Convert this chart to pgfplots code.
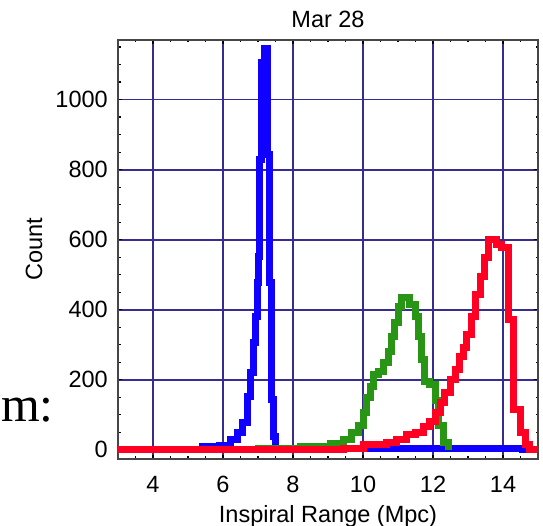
\documentclass[border=0pt]{standalone}
\usepackage{pgfplots}
\pgfplotsset{compat=1.18}
\usepackage{fontspec}
\setmainfont{Liberation Sans}
\newfontfamily\slidefont{Liberation Serif}
\definecolor{histblue}{RGB}{15,0,255}
\definecolor{histgreen}{RGB}{40,150,20}
\definecolor{histred}{RGB}{255,0,35}
\definecolor{gridblue}{RGB}{55,45,145}
\definecolor{framegray}{RGB}{70,70,70}
\newcommand\lbl{\fontsize{23.6}{28}\selectfont}

\begin{document}
\begin{tikzpicture}
\useasboundingbox (0,0) rectangle (543bp,526bp);
\begin{axis}[
    at={(118bp,67bp)}, anchor=south west,
    scale only axis, width=420bp, height=419bp,
    xmin=3, xmax=15, ymin=-26, ymax=1170,
    xtick={4,6,...,14}, ytick={0,200,...,1000},
    minor xtick={3,3.5,...,15}, minor ytick={0,50,...,1150},
    grid=major,
    major grid style={gridblue, line width=1.8bp},
    axis line style={framegray, line width=1.6bp},
    tick style={black, line width=1.2bp},
    major tick length=4bp, minor tick length=2.5bp,
    tick align=inside,
    ticklabel style={font=\lbl},
    xticklabel style={inner sep=0pt, anchor=north, yshift=-17bp},
    yticklabel style={inner sep=0pt, anchor=east, xshift=-10bp},
    /pgf/number format/assume math mode=true,
    /pgf/number format/1000 sep={},
    scaled ticks=false,
    every axis plot/.append style={const plot mark left, line width=7bp, mark=none},
]
% blue histogram
\addplot[histblue] coordinates {
    (3.0,0) (5.4,10) (5.9,12) (6.21,29) (6.41,49) (6.56,77) (6.70,151)
    (6.79,220) (6.87,306) (6.93,380) (6.99,477) (7.02,551) (7.05,829)
    (7.10,1105) (7.18,1145) (7.27,843) (7.33,477) (7.39,143) (7.44,37)
    (7.50,3) (14.55,0) (15,0)
};
% green histogram
\addplot[histgreen] coordinates {
    (6.9,4) (8.2,11) (9.06,17) (9.44,29) (9.68,49) (9.87,71) (10.0,106)
    (10.1,149) (10.2,180) (10.29,214) (10.44,223) (10.58,249) (10.72,280)
    (10.82,323) (10.91,363) (11.01,409) (11.11,436) (11.34,414) (11.49,380)
    (11.58,323) (11.68,257) (11.77,194) (11.91,186) (12.06,140) (12.17,70)
    (12.3,20) (12.44,0)
};
% red histogram
\addplot[histred] coordinates {
    (3.0,0) (9.44,5) (10.01,14) (10.68,20) (10.96,29) (11.25,43) (11.49,51)
    (11.72,66) (11.91,80) (12.06,106) (12.2,134) (12.34,163) (12.49,200)
    (12.63,229) (12.75,266) (12.87,291) (12.97,329) (13.1,380) (13.22,443)
    (13.35,494) (13.48,549) (13.58,600) (13.82,586) (13.96,577) (14.17,371)
    (14.29,114) (14.49,49) (14.63,14) (14.77,0) (15,0)
};
\end{axis}
\node[font=\lbl, anchor=base] at (328bp,498bp) {Mar 28};
\node[font=\lbl, anchor=base] at (328bp,4bp) {Inspiral Range (Mpc)};
\node[font=\lbl, anchor=base, rotate=90] at (42bp,277bp) {Count};
\node[font=\slidefont\fontsize{50}{58}\selectfont, anchor=base west, inner sep=0pt]
    at (1bp,104bp) {m:};
\end{tikzpicture}
\end{document}
